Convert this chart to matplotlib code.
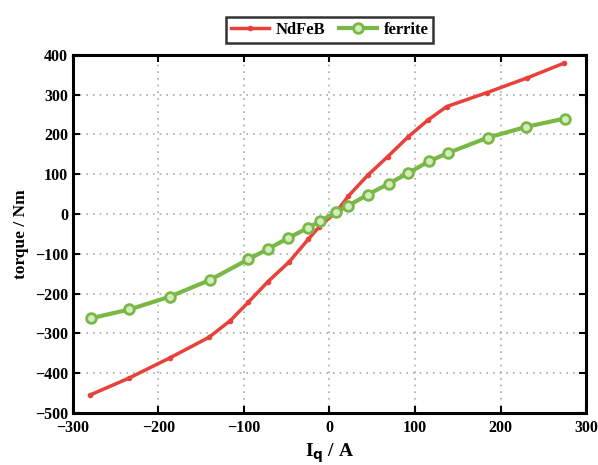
import matplotlib.pyplot as plt

# currents (A) and torque (Nm)
iq_ndfeb = [-280, -234, -187, -141, -116, -95, -72, -47, -25, -12,
            8, 22, 45, 68, 92, 115, 137, 184, 231, 274]
torque_ndfeb = [-455, -412, -362, -310, -268, -222, -170, -120, -64, -32,
                5, 45, 98, 144, 194, 236, 270, 305, 342, 379]

iq_ferrite = [-279, -234, -187, -140, -95, -72, -48, -25, -11,
              8, 22, 45, 69, 92, 116, 138, 185, 230, 275]
torque_ferrite = [-262, -240, -208, -166, -114, -88, -60, -35, -18,
                  5, 21, 49, 76, 103, 132, 153, 192, 219, 240]

x_ticks = [-300, -200, -100, 0, 100, 200, 300]
y_ticks = [-500, -400, -300, -200, -100, 0, 100, 200, 300, 400]

plt.rcParams['font.family'] = ['Liberation Serif', 'DejaVu Serif']
plt.rcParams['font.weight'] = 'bold'

fig = plt.figure(figsize=(5.98, 4.65), dpi=100)
ax = fig.add_axes([0.122, 0.112, 0.858, 0.77])

ax.plot(iq_ndfeb, torque_ndfeb, color='#e8413b', lw=2.5, marker='o', ms=3,
        label='NdFeB')
ax.plot(iq_ferrite, torque_ferrite, color='#79b845', lw=3, marker='o', ms=7,
        mfc='#d4eabf', mew=2, label='ferrite')

ax.set_xlim(-300, 300)
ax.set_ylim(-500, 400)
ax.set_xticks(x_ticks)
ax.set_yticks(y_ticks)
ax.grid(True, linestyle=(0, (1, 3)), color='#aaaaaa', linewidth=1.2)
ax.tick_params(direction='in', top=True, right=True, length=5, width=1.5,
               labelsize=11.5)
ax.tick_params(axis='x', pad=5)
for s in ax.spines.values():
    s.set_linewidth(2.2)

ax.set_xlabel('I$_\\mathbf{q}$ / A', fontsize=14, fontweight='bold')
ax.set_ylabel('torque / Nm', fontsize=12.5, fontweight='bold')

leg = ax.legend(loc='lower center', bbox_to_anchor=(0.5, 1.01), ncol=2,
                fontsize=12, frameon=True, fancybox=False, handlelength=2.3,
                borderpad=0.3, columnspacing=0.8, handletextpad=0.4)
leg.get_frame().set_edgecolor('black')
leg.get_frame().set_linewidth(1.8)

fig.savefig('out.png', dpi=100)
